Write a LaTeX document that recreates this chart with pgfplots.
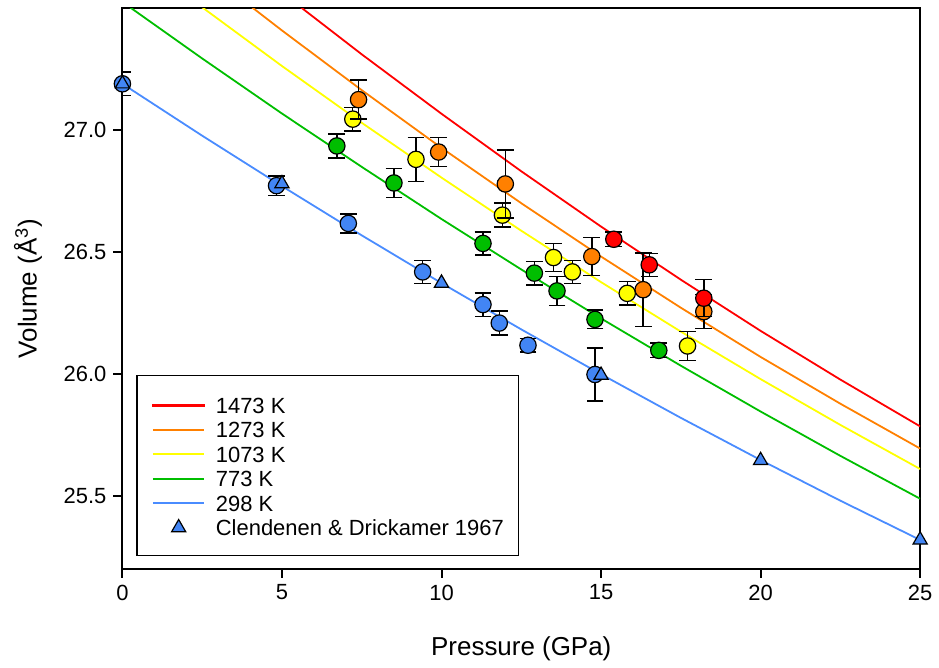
\documentclass[border=0pt]{standalone}
\usepackage{fontspec}
\setmainfont{Liberation Sans}
\usepackage{pgfplots}
\pgfplotsset{compat=1.18}

\definecolor{cRed}{RGB}{255,0,0}
\definecolor{cOrange}{RGB}{255,128,0}
\definecolor{cYellow}{RGB}{255,255,0}
\definecolor{cGreen}{RGB}{0,190,0}
\definecolor{cBlue}{RGB}{66,133,244}
\definecolor{cBlueLine}{RGB}{74,140,255}

\pgfplotsset{
  pts/.style={only marks, mark=*, mark size=4.1pt,
    mark options={draw=black, line width=0.6pt, fill=#1},
    error bars/y dir=both, error bars/y explicit,
    error bars/error bar style={black, line width=0.7pt},
    error bars/error mark options={rotate=90, black, mark size=4.2pt, line width=0.7pt}},
}

\begin{document}
\begin{tikzpicture}
% overall page extent
\path (-61.35pt,-48pt) rectangle (408.15pt,285pt);
\begin{axis}[
  scale only axis, width=399.8pt, height=280.85pt,
  xmin=0, xmax=25, ymin=25.2, ymax=27.5,
  xtick={0,5,...,25}, ytick={25.5,26.0,26.5,27.0},
  yticklabel style={/pgf/number format/.cd, fixed, fixed zerofill, precision=1},
  /pgf/number format/assume math mode=true,
  tick pos=left, tick align=outside, major tick length=4.5pt,
  minor tick num=0,
  axis line style={line width=1pt},
  tick style={line width=1pt, black},
  ticklabel style={font=\fontsize{11}{13}\selectfont},
  label style={font=\fontsize{13}{15.6}\selectfont},
  xlabel={Pressure (GPa)},
  ylabel={Volume (Å\textsuperscript{3})},
  xlabel style={at={(axis description cs:0.5,-0.1424)}, anchor=center},
  ylabel style={at={(axis description cs:-0.1184,0.5)}, anchor=center},
  clip mode=individual,
  legend cell align=left,
  legend style={at={(axis description cs:0.0175,0.0219)}, anchor=south west,
    inner xsep=7.5pt, inner ysep=7.9pt,
    column sep=5.3pt, row sep=0pt,
    nodes={inner sep=0pt, text height=10.05pt, text depth=2.2pt,
      font=\fontsize{11}{13}\selectfont}},
  every axis legend/.append style={line width=0.7pt},
  legend image code/.code={\draw[mark repeat=2,mark phase=2,#1]
    plot coordinates {(0pt,0pt) (12.9pt,0pt) (25.8pt,0pt)};},
]

% zero-height spacer row at the top of the legend (sets a colour first)
\addlegendimage{legend image code/.code={\draw[white, line width=0.01pt]
  (0pt,0pt) -- (0.01pt,0pt);}}
\addlegendentry[text height=0pt, text depth=0pt]{}

% equation-of-state isotherms
\addplot[no marks, line width=0.9pt, color=cRed,
  legend image code/.code={\fill[cRed] (0pt,-0.33pt) rectangle (25.8pt,0.33pt);}]
  coordinates {
  (0,28.097) (2.5,27.826) (5,27.564) (7.5,27.311) (10,27.067) (12.5,26.831)
  (15,26.604) (17.5,26.386) (20,26.176) (22.5,25.976) (25,25.784)};
\addlegendentry{1473 K}
\addplot[no marks, line width=0.9pt, color=cOrange] coordinates {
  (0,27.925) (2.5,27.662) (5,27.409) (7.5,27.164) (10,26.927) (12.5,26.700)
  (15,26.481) (17.5,26.271) (20,26.069) (22.5,25.877) (25,25.693)};
\addlegendentry{1273 K}
\addplot[no marks, line width=0.9pt, color=cYellow] coordinates {
  (0,27.752) (2.5,27.504) (5,27.263) (7.5,27.030) (10,26.805) (12.5,26.587)
  (15,26.376) (17.5,26.173) (20,25.978) (22.5,25.790) (25,25.609)};
\addlegendentry{1073 K}
\addplot[no marks, line width=0.9pt, color=cGreen] coordinates {
  (0,27.526) (2.5,27.294) (5,27.068) (7.5,26.849) (10,26.635) (12.5,26.428)
  (15,26.227) (17.5,26.033) (20,25.845) (22.5,25.663) (25,25.487)};
\addlegendentry{773 K}
\addplot[no marks, line width=0.9pt, color=cBlueLine] coordinates {
  (0,27.190) (2.5,26.977) (5,26.770) (7.5,26.568) (10,26.372) (12.5,26.182)
  (15,25.998) (17.5,25.819) (20,25.646) (22.5,25.479) (25,25.318)};
\addlegendentry{298 K}

% measured unit-cell volumes
\addplot[pts=cBlue, forget plot] coordinates {
  (0,27.19) +- (0,0.049)
  (4.83,26.772) +- (0,0.040)
  (7.08,26.617) +- (0,0.039)
  (9.41,26.418) +- (0,0.047)
  (11.30,26.284) +- (0,0.048)
  (11.81,26.208) +- (0,0.049)
  (12.71,26.117) +- (0,0.027)
  (14.81,25.997) +- (0,0.109)};
\addplot[pts=cGreen, forget plot] coordinates {
  (6.72,26.935) +- (0,0.049)
  (8.51,26.783) +- (0,0.060)
  (11.30,26.535) +- (0,0.047)
  (12.91,26.413) +- (0,0.048)
  (13.62,26.340) +- (0,0.059)
  (14.81,26.223) +- (0,0.038)
  (16.81,26.096) +- (0,0.030)};
\addplot[pts=cYellow, forget plot] coordinates {
  (7.22,27.045) +- (0,0.048)
  (9.20,26.880) +- (0,0.090)
  (11.91,26.651) +- (0,0.049)
  (13.51,26.477) +- (0,0.058)
  (14.10,26.418) +- (0,0.047)
  (15.82,26.330) +- (0,0.048)
  (17.71,26.114) +- (0,0.059)};
\addplot[pts=cOrange, forget plot] coordinates {
  (7.40,27.125) +- (0,0.080)
  (9.91,26.910) +- (0,0.060)
  (12.00,26.779) +- (0,0.140)
  (14.71,26.481) +- (0,0.078)
  (16.32,26.345) +- (0,0.150)
  (18.22,26.255) +- (0,0.070)};
\addplot[pts=cRed, forget plot] coordinates {
  (15.40,26.552) +- (0,0.030)
  (16.51,26.447) +- (0,0.047)
  (18.22,26.310) +- (0,0.076)};

% Clendenen & Drickamer (1967)
\addplot[only marks, mark=triangle*, mark size=4.1pt,
  mark options={draw=black, line width=0.6pt, fill=cBlue}] coordinates {
  (0,27.19) (5,26.78) (10,26.372) (15,25.994) (20,25.644) (25,25.318)};
\addlegendentry{Clendenen \& Drickamer 1967}
\end{axis}
\end{tikzpicture}
\end{document}
